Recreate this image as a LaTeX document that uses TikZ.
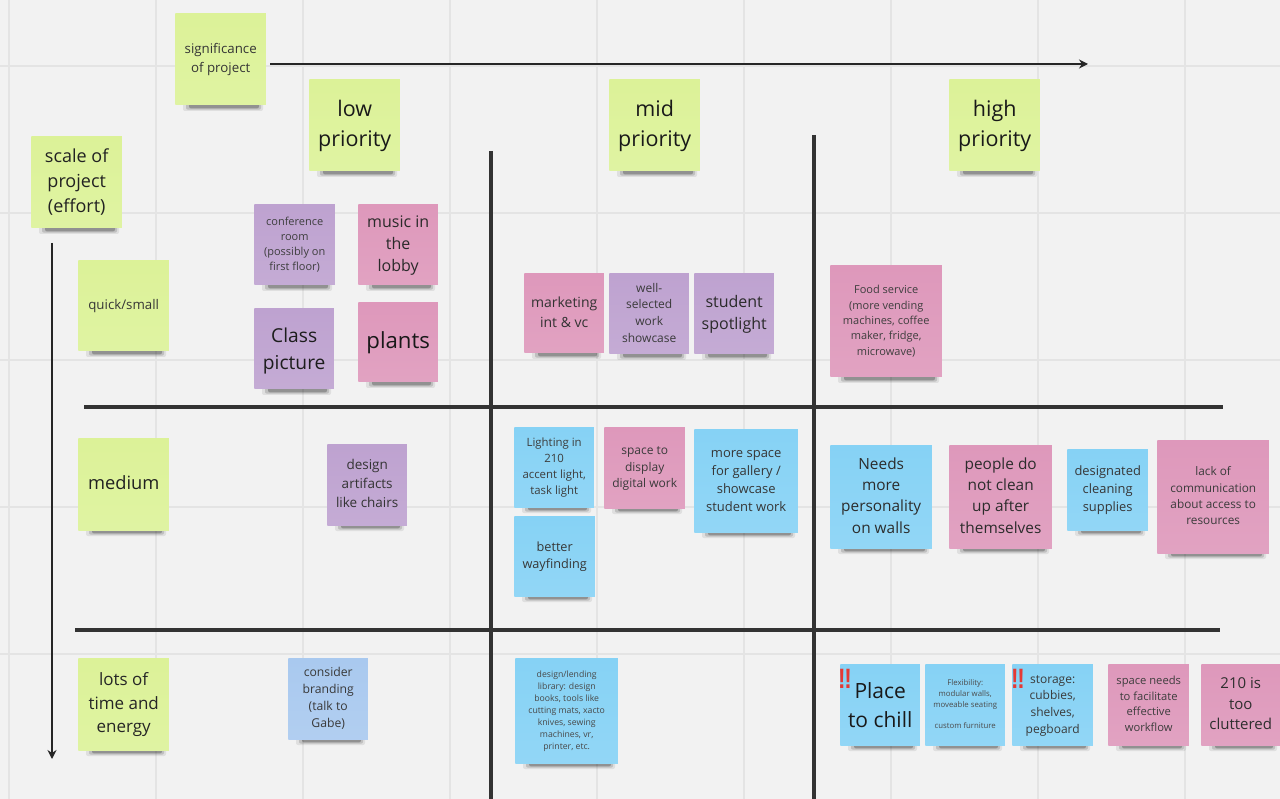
\documentclass[tikz,border=0pt]{standalone}
\usepackage{fontspec}
\setmainfont{Open Sans}
\newfontfamily\bangfont{Liberation Sans}[BoldFont={Liberation Sans Bold}]
\usetikzlibrary{arrows.meta}
\definecolor{bgc}{HTML}{F2F2F2}
\definecolor{gridc}{HTML}{E4E4E4}
\definecolor{barc}{HTML}{333333}
\definecolor{gr}{HTML}{DCF298}
\definecolor{pu}{HTML}{BEA2D0}
\definecolor{pk}{HTML}{DE98BB}
\definecolor{bl}{HTML}{86D2F5}
\definecolor{lb}{HTML}{A9C9EF}
\definecolor{bangc}{HTML}{E53935}
\tikzset{
  gridline/.style={draw=gridc,line width=1.5pt},
  bar/.style={draw=barc,line width=4pt},
  axisarrow/.style={draw=black!85,line width=1.8pt,-{Stealth[length=9pt,width=9pt]}},
  sticky/.style={inner sep=0pt,outer sep=0pt,align=center},
  bang/.style={inner sep=0pt,text=bangc,xscale=.8,font=\bangfont\bfseries\fontsize{28}{28}\selectfont}
}
\newcommand{\sticky}[8]{%
  \pgfmathsetmacro{\noteW}{#4-#2-0.5}%
  \pgfmathsetmacro{\noteH}{#5-#3-0.9}%
  \pgfmathsetmacro{\noteX}{(#2+#4)/2+0.2}%
  \pgfmathsetmacro{\noteY}{(#3+#5)/2+0.45}%
  \pgfmathsetmacro{\noteL}{1.39*#7}%
  \pgfmathsetmacro{\noteT}{min(90,58+1.6*#7)}%
  \foreach \i/\o in {0/.08,1/.14,2/.24}{%
    \fill[black,opacity=\o,rounded corners=2pt]
      ({#2+8+\i*3},{#5-2}) rectangle ({#4-3-\i*2},{#5+6-1.3*\i});
  }%
  \node[sticky,top color=#6,bottom color=#6!90!white,text=black!\noteT,
        minimum width=\noteW pt,minimum height=\noteH pt,
        font=\fontsize{#7}{\noteL}\selectfont] (#1) at (\noteX,\noteY) {\strut #8\strut};%
}
\begin{document}
\begin{tikzpicture}[x=1pt,y=-1pt]
\useasboundingbox (0,0) rectangle (1280,799);
\fill[bgc] (0,0) rectangle (1280,799);
\foreach \gx in {9,156,303,450,597,744,891,1038,1185}{\draw[gridline] (\gx,0) -- (\gx,799);}
\foreach \gy in {66,213,360,507,654}{\draw[gridline] (0,\gy) -- (1280,\gy);}

\coordinate (v1a) at (491,151); \coordinate (v1b) at (491,799);
\coordinate (v2a) at (814,135); \coordinate (v2b) at (814,799);
\coordinate (h1a) at (84,407);  \coordinate (h1b) at (1223,407);
\coordinate (h2a) at (75,630);  \coordinate (h2b) at (1220,630);
\draw[bar] (v1a) -- (v1b);
\draw[bar] (v2a) -- (v2b);
\draw[bar] (h1a) -- (h1b);
\draw[bar] (h2a) -- (h2b);

\sticky{sig}{175}{13}{266}{105}{gr}{13.3}{significance\\of project}
\sticky{low}{309}{79}{400}{171}{gr}{21.5}{low\\priority}
\sticky{mid}{609}{79}{700}{171}{gr}{21.5}{mid\\priority}
\sticky{high}{949}{79}{1040}{171}{gr}{21.5}{high\\priority}
\sticky{scale}{31}{136}{122}{228}{gr}{18}{scale of\\project\\(effort)}
\sticky{quick}{78}{260}{169}{351}{gr}{13.3}{quick/small}
\sticky{medium}{78}{438}{169}{530}{gr}{18.3}{medium}
\sticky{lots}{78}{658}{169}{750}{gr}{17}{lots of\\time and\\energy}

\sticky{conf}{254}{204}{335}{285}{pu}{11}{conference\\room\\(possibly on\\first floor)}
\sticky{music}{358}{204}{438}{285}{pk}{16}{music in\\the\\lobby}
\sticky{class}{254}{308}{334}{389}{pu}{19.2}{\rule{0pt}{22.7pt}Class\\picture}
\sticky{plants}{358}{302}{438}{382}{pk}{22.2}{plants}
\sticky{artifacts}{327}{444}{407}{525}{pu}{13.5}{design\\artifacts\\like chairs}
\sticky{brand}{288}{658}{368}{739}{lb}{12.2}{consider\\branding\\(talk to\\Gabe)}

\sticky{market}{524}{273}{604}{353}{pk}{14}{marketing\\int \& vc}
\sticky{well}{609}{273}{689}{354}{pu}{12}{well-\\selected\\work\\showcase}
\sticky{spot}{694}{273}{774}{354}{pu}{16}{student\\spotlight}
\sticky{food}{830}{265}{942}{377}{pk}{11}{Food service\\(more vending\\machines, coffee\\maker, fridge,\\microwave)}

\sticky{light}{514}{427}{594}{507}{bl}{11.4}{Lighting in\\210\\accent light,\\task light}
\sticky{way}{514}{516}{595}{596}{bl}{12.7}{better\\wayfinding}
\sticky{disp}{604}{427}{685}{508}{pk}{12}{space to\\display\\digital work}
\sticky{more}{694}{429}{798}{532}{bl}{13}{more space\\for gallery /\\showcase\\student work}
\sticky{needs}{830}{445}{932}{548}{bl}{15.4}{Needs\\more\\personality\\on walls}
\sticky{people}{949}{445}{1052}{548}{pk}{15.4}{people do\\not clean\\up after\\themselves}
\sticky{clean}{1067}{449}{1148}{530}{bl}{12.9}{designated\\cleaning\\supplies}
\sticky{lack}{1157}{440}{1269}{553}{pk}{11.8}{lack of\\communication\\about access to\\resources}

\sticky{lend}{515}{658}{618}{763}{bl}{8.7}{design/lending\\library: design\\books, tools like\\cutting mats, xacto\\knives, sewing\\machines, vr,\\printer, etc.}
\sticky{chill}{840}{664}{920}{745}{bl}{21}{\rule{0pt}{25.5pt}Place\\to chill}
\sticky{flex}{925}{664}{1005}{745}{bl}{7.8}{Flexibility:\\modular walls,\\moveable seating\\[10.8pt]custom furniture}
\sticky{store}{1012}{664}{1093}{745}{bl}{12}{storage:\\cubbies,\\shelves,\\pegboard}
\sticky{flow}{1108}{664}{1189}{745}{pk}{11.2}{space needs\\to facilitate\\effective\\workflow}
\sticky{clut}{1201}{664}{1280}{745}{pk}{15}{210 is\\too\\cluttered}

\node[bang] (b1) at (845,679) {!\kern-.06em!};
\node[bang] (b2) at (1018,679) {!\kern-.06em!};

\coordinate (ax1) at (270,64);  \coordinate (ax2) at (1088,64);
\coordinate (ay1) at (52,243);  \coordinate (ay2) at (52,759);
\draw[axisarrow] (ax1) -- (ax2);
\draw[axisarrow] (ay1) -- (ay2);
\end{tikzpicture}
\end{document}
